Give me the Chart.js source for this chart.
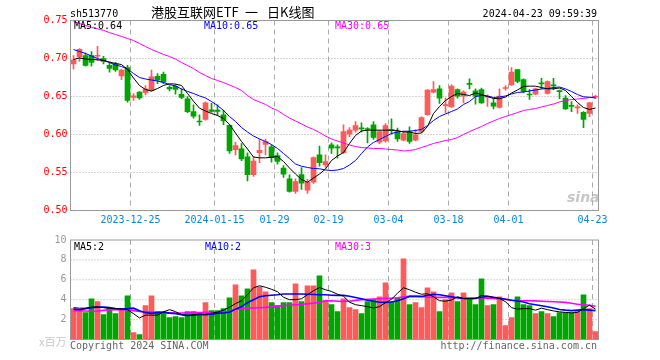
<!DOCTYPE html>
<html>
<head>
<meta charset="utf-8">
<script src="https://cdn.jsdelivr.net/npm/chart.js@4.4.1/dist/chart.umd.min.js"></script>
<style>
  body { margin: 0; background: #fff; width: 660px; height: 360px; position: relative; overflow: hidden;
         font-family: "DejaVu Sans Mono", monospace; font-size: 10px; }
  canvas { position: absolute; left: 0; }
  .t { position: absolute; line-height: 12px; white-space: nowrap; }
  .ttl { position: absolute; top: 4px; line-height: 16px; font-size: 13px; font-family: "Noto Sans CJK SC", sans-serif; color: #000; white-space: nowrap; }
</style>
</head>
<body>
<canvas id="k-chart" width="660" height="230" style="top:0"></canvas>
<canvas id="vol-chart" width="660" height="130" style="top:230px"></canvas>

<div class="t" style="left:70px;top:8px;color:#000">sh513770</div>
<div class="ttl" style="left:151px">港股互联网ETF</div>
<div class="ttl" style="left:245px">一</div>
<div class="ttl" style="left:267px">日K线图</div>
<div class="t" style="right:63px;top:8px;color:#000">2024-04-23 09:59:39</div>
<div class="t" style="left:74px;top:20px;color:#000">MA5:0.64</div>
<div class="t" style="left:204px;top:20px;color:#0000ff">MA10:0.65</div>
<div class="t" style="left:335px;top:20px;color:#ff00ff">MA30:0.65</div>
<div class="t" style="left:567px;top:189px;font:italic bold 14px 'DejaVu Sans',sans-serif;color:rgba(175,175,175,0.7)">sina</div>
<div class="t" style="left:74px;top:241px;color:#000">MA5:2</div>
<div class="t" style="left:205px;top:241px;color:#0000ff">MA10:2</div>
<div class="t" style="left:335px;top:241px;color:#ff00ff">MA30:3</div>
<div class="t" style="left:39px;top:335px;font-size:11px;font-family:'Noto Sans CJK SC',sans-serif;color:#c8c8c8">x百万</div>
<div class="t" style="left:70px;top:340px;color:#666">Copyright 2024 SINA.COM</div>
<div class="t" style="right:63px;top:340px;color:#666">http://finance.sina.com.cn</div>

<script>
// trading days 2023-12-11 .. 2024-04-23
var dates = [
  "2023-12-11","2023-12-12","2023-12-13","2023-12-14","2023-12-15","2023-12-18","2023-12-19","2023-12-20","2023-12-21","2023-12-22",
  "2023-12-25","2023-12-26","2023-12-27","2023-12-28","2023-12-29","2024-01-02","2024-01-03","2024-01-04","2024-01-05","2024-01-08",
  "2024-01-09","2024-01-10","2024-01-11","2024-01-12","2024-01-15","2024-01-16","2024-01-17","2024-01-18","2024-01-19","2024-01-22",
  "2024-01-23","2024-01-24","2024-01-25","2024-01-26","2024-01-29","2024-01-30","2024-01-31","2024-02-01","2024-02-02","2024-02-05",
  "2024-02-06","2024-02-07","2024-02-08","2024-02-19","2024-02-20","2024-02-21","2024-02-22","2024-02-23","2024-02-26","2024-02-27",
  "2024-02-28","2024-02-29","2024-03-01","2024-03-04","2024-03-05","2024-03-06","2024-03-07","2024-03-08","2024-03-11","2024-03-12",
  "2024-03-13","2024-03-14","2024-03-15","2024-03-18","2024-03-19","2024-03-20","2024-03-21","2024-03-22","2024-03-25","2024-03-26",
  "2024-03-27","2024-03-28","2024-03-29","2024-04-01","2024-04-02","2024-04-03","2024-04-08","2024-04-09","2024-04-10","2024-04-11",
  "2024-04-12","2024-04-15","2024-04-16","2024-04-17","2024-04-18","2024-04-19","2024-04-22","2024-04-23"
];

var tickDates = ["2023-12-25","2024-01-15","2024-01-29","2024-02-19","2024-03-04","2024-03-18","2024-04-01","2024-04-23"];
var tickTexts = ["2023-12-25","2024-01-15","01-29","02-19","03-04","03-18","04-01","04-23"];

var opens = [
  0.693,0.702,0.704,0.704,0.703,0.700,0.691,0.693,0.677,0.688,
  0.6487,0.6557,0.655,0.658,0.6767,0.6793,0.662,0.6636,0.653,0.647,
  0.630,0.6175,0.6197,0.6325,0.632,0.626,0.612,0.580,0.581,0.5706,
  0.547,0.576,0.587,0.5838,0.5724,0.5557,0.5417,0.525,0.5474,0.5267,
  0.5372,0.5733,0.560,0.5864,0.583,0.576,0.6004,0.6057,0.6085,0.607,
  0.6127,0.5899,0.5917,0.606,0.604,0.5925,0.604,0.5925,0.604,0.626,
  0.6557,0.660,0.638,0.6364,0.6592,0.6504,0.667,0.6575,0.6592,0.649,
  0.6417,0.6355,0.6605,0.6654,0.6855,0.6723,0.6525,0.653,0.667,0.654,
  0.6647,0.6568,0.6478,0.638,0.635,0.6293,0.6276,0.649
];
var closes = [
  0.698,0.712,0.691,0.695,0.704,0.696,0.687,0.685,0.6846,0.645,
  0.651,0.648,0.660,0.676,0.6714,0.6688,0.660,0.6592,0.6487,0.630,
  0.624,0.6165,0.6417,0.6305,0.6305,0.618,0.5785,0.5855,0.568,0.547,
  0.565,0.5793,0.5908,0.5697,0.5645,0.5478,0.525,0.538,0.536,0.5372,
  0.5697,0.5628,0.5645,0.582,0.5825,0.604,0.6057,0.6118,0.6075,0.6066,
  0.596,0.604,0.6118,0.605,0.5943,0.6013,0.5908,0.5996,0.6224,0.6583,
  0.6592,0.6478,0.639,0.6636,0.6504,0.6557,0.666,0.6504,0.6417,0.6496,
  0.6373,0.6504,0.6618,0.682,0.6697,0.6566,0.652,0.660,0.6667,0.6697,
  0.664,0.6564,0.6338,0.637,0.6357,0.6197,0.6417,0.6495
];
var highs = [
  0.704,0.713,0.7075,0.709,0.716,0.703,0.695,0.695,0.686,0.691,
  0.654,0.6566,0.6645,0.6846,0.680,0.682,0.6645,0.6654,0.660,0.650,
  0.639,0.626,0.643,0.641,0.639,0.632,0.6127,0.590,0.588,0.576,
  0.5706,0.5934,0.594,0.5864,0.576,0.559,0.547,0.5417,0.5566,0.541,
  0.5706,0.5846,0.5733,0.589,0.5864,0.6127,0.609,0.617,0.6154,0.609,
  0.617,0.6057,0.6145,0.6206,0.6083,0.604,0.610,0.6066,0.6233,0.6592,
  0.6697,0.6645,0.6478,0.6654,0.660,0.6575,0.6733,0.660,0.661,0.6522,
  0.647,0.660,0.6645,0.688,0.6855,0.6733,0.6592,0.661,0.674,0.6707,
  0.674,0.6583,0.6513,0.6434,0.639,0.630,0.6425,0.652
];
var lows = [
  0.686,0.696,0.690,0.690,0.697,0.693,0.682,0.683,0.672,0.6425,
  0.645,0.646,0.652,0.6566,0.667,0.667,0.6575,0.653,0.647,0.6286,
  0.6215,0.612,0.619,0.629,0.625,0.613,0.575,0.573,0.5655,0.539,
  0.545,0.563,0.573,0.5636,0.561,0.5435,0.524,0.5224,0.5276,0.5224,
  0.5355,0.5583,0.5566,0.575,0.569,0.575,0.597,0.603,0.603,0.589,
  0.5934,0.588,0.590,0.6004,0.5908,0.5917,0.5882,0.5917,0.6022,0.625,
  0.6548,0.6408,0.6285,0.6355,0.6478,0.6417,0.660,0.640,0.6408,0.637,
  0.6338,0.6346,0.6583,0.6645,0.668,0.6548,0.646,0.6522,0.660,0.653,
  0.659,0.647,0.633,0.630,0.6276,0.609,0.6233,0.647
];

// moving averages as drawn on the chart
var ma5 = [
  0.6987,0.7007,0.6993,0.6987,0.6983,0.6974,0.6954,0.6934,0.6921,0.6855,
  0.6743,0.6645,0.6592,0.6572,0.6605,0.6645,0.6667,0.6664,0.6645,0.654,
  0.6438,0.6346,0.6309,0.6276,0.625,0.6211,0.6132,0.602,0.5908,0.5809,
  0.5704,0.5693,0.5693,0.5701,0.571,0.5645,0.5559,0.548,0.5408,0.5372,
  0.5428,0.548,0.5546,0.5658,0.5717,0.5763,0.5882,0.5987,0.6046,0.6057,
  0.6057,0.6057,0.6057,0.6057,0.6053,0.6033,0.6033,0.6013,0.602,0.6105,
  0.6276,0.6368,0.6447,0.65,0.654,0.6526,0.6513,0.6546,0.6526,0.65,
  0.6474,0.647,0.6493,0.6546,0.6586,0.6632,0.6636,0.6636,0.6618,0.6601,
  0.6601,0.6612,0.6579,0.65,0.6421,0.6355,0.6329,0.6349
];
var ma10 = [
  0.7118,0.7092,0.7066,0.7033,0.700,0.6974,0.6947,0.6914,0.6895,0.6862,
  0.6803,0.675,0.673,0.6717,0.6704,0.6684,0.6658,0.6638,0.6599,0.6566,
  0.654,0.6507,0.648,0.6434,0.6382,0.6316,0.6237,0.6171,0.6092,0.6033,
  0.598,0.5941,0.5908,0.5868,0.5816,0.575,0.5684,0.5612,0.5583,0.5566,
  0.5553,0.5549,0.5533,0.5526,0.5533,0.5553,0.5599,0.5658,0.575,0.5836,
  0.5895,0.5934,0.5974,0.6013,0.6033,0.6043,0.6043,0.6053,0.6066,0.6118,
  0.6184,0.6237,0.627,0.6303,0.6336,0.6395,0.6434,0.65,0.6513,0.6507,
  0.6487,0.6493,0.6507,0.6533,0.6553,0.656,0.6572,0.6586,0.6599,0.6605,
  0.6618,0.6625,0.660,0.6566,0.6526,0.6496,0.649,0.648
];
var ma30 = [
  0.7487,0.746,0.7434,0.741,0.739,0.737,0.734,0.7316,0.729,0.7263,
  0.7237,0.7197,0.7158,0.7118,0.7086,0.7053,0.7026,0.6993,0.6947,0.6908,
  0.6868,0.6816,0.6776,0.6737,0.6711,0.6684,0.6651,0.6618,0.6579,0.6513,
  0.646,0.6428,0.6395,0.6349,0.6316,0.6263,0.6217,0.6178,0.6138,0.6099,
  0.6066,0.6026,0.598,0.5941,0.5914,0.5888,0.5862,0.5842,0.5829,0.5822,
  0.5816,0.5816,0.5809,0.5803,0.5796,0.5783,0.5789,0.5803,0.5829,0.5855,
  0.5882,0.5901,0.5921,0.5934,0.596,0.600,0.6039,0.6072,0.6105,0.6145,
  0.6178,0.6211,0.6237,0.6263,0.6289,0.6316,0.6329,0.6342,0.6362,0.6382,
  0.6401,0.6428,0.6447,0.646,0.6467,0.6474,0.6487,0.650
];

// volume, millions
var volumes = [
  3.1,2.8,2.7,4.1,3.8,2.5,3.2,2.6,3.0,4.4,
  0.7,0.5,3.4,4.4,2.8,2.7,2.2,2.3,2.2,2.8,
  2.8,2.6,3.7,2.9,2.9,3.1,4.2,5.5,4.4,5.1,
  7.0,5.3,4.8,3.7,3.4,3.7,3.7,5.6,3.8,5.4,
  5.4,6.4,3.9,3.5,2.8,4.1,3.2,3.0,2.6,3.8,
  4.0,4.3,5.7,3.8,4.2,8.1,3.5,3.7,3.2,5.2,
  4.8,2.8,4.0,4.7,3.8,4.7,4.0,3.5,6.1,3.4,
  3.5,4.3,1.4,2.2,4.3,3.5,3.4,2.6,2.8,2.6,
  2.3,2.7,2.7,2.7,2.9,4.5,3.1,0.8
];
var volMa5 = [
  3.2,3.15,3.15,3.25,3.27,3.2,3.13,3.08,3.07,3.0,
  2.6,2.17,2.45,2.45,2.45,2.78,3.0,2.8,2.5,2.4,
  2.5,2.57,2.5,2.65,2.75,2.95,3.25,3.6,3.9,4.5,
  5.2,5.4,5.25,5.05,4.8,4.25,4.0,4.0,4.1,4.5,
  4.9,5.22,5.0,4.83,4.55,4.35,3.75,3.5,3.4,3.3,
  3.17,3.3,3.7,4.05,4.65,5.2,5.0,4.75,4.55,4.6,
  4.3,3.9,3.85,3.97,4.3,4.12,4.1,4.1,4.43,4.35,
  4.23,4.12,3.8,3.2,3.05,3.1,3.1,2.95,3.15,3.0,
  2.87,2.78,2.72,2.67,2.72,3.1,3.45,3.05
];
var volMa10 = [
  3.05,3.0,3.1,3.2,3.25,3.25,3.2,3.12,3.07,3.1,
  3.15,2.9,2.7,2.63,2.7,2.75,2.65,2.6,2.5,2.42,
  2.45,2.5,2.5,2.55,2.65,2.67,2.75,3.05,3.3,3.7,
  4.0,4.3,4.4,4.45,4.5,4.57,4.57,4.57,4.57,4.55,
  4.52,4.5,4.5,4.45,4.43,4.43,4.35,4.22,4.1,3.95,
  3.85,3.75,3.73,3.77,3.9,4.1,4.33,4.33,4.33,4.45,
  4.55,4.5,4.4,4.3,4.2,4.12,4.1,4.15,4.25,4.33,
  4.25,4.15,4.05,3.95,3.87,3.77,3.6,3.5,3.4,3.3,
  3.17,3.02,2.95,2.9,2.95,3.0,2.95,2.9
];
var volMa30 = [
  2.9,2.88,2.86,2.84,2.87,2.93,2.98,3.0,3.0,3.0,
  2.9,2.82,2.78,2.75,2.73,2.7,2.68,2.67,2.67,2.68,
  2.7,2.72,2.73,2.74,2.75,2.77,2.8,3.05,3.1,3.15,
  3.17,3.2,3.23,3.28,3.35,3.4,3.45,3.5,3.53,3.6,
  3.66,3.75,3.88,3.9,3.85,3.83,3.85,3.93,4.0,4.03,
  4.07,4.1,4.13,4.15,4.2,4.3,4.33,4.33,4.3,4.27,
  4.24,4.23,4.23,4.23,4.2,4.18,4.17,4.17,4.17,4.15,
  4.12,4.1,4.05,3.95,3.9,3.9,3.9,3.88,3.85,3.82,
  3.8,3.77,3.73,3.65,3.55,3.5,3.45,3.35
];

var UP = "#ff5a5a", DOWN = "#00a600";
function candleColor(i) { return closes[i] >= opens[i] ? UP : DOWN; }
var colors = dates.map((d, i) => candleColor(i));

Chart.defaults.font.family = "'DejaVu Sans Mono', monospace";
Chart.defaults.font.size = 10;

// dotted/dashed grid + grey frame, like the sina panels
var panelFrame = {
  id: "panelFrame",
  beforeDatasetsDraw(chart) {
    const ctx = chart.ctx, a = chart.chartArea, x = chart.scales.x, y = chart.scales.y;
    ctx.save();
    ctx.lineWidth = 1;
    ctx.strokeStyle = "#aaa";
    ctx.setLineDash([1, 2]);
    y.ticks.forEach(t => {
      if (t.value <= y.min + 1e-9 || t.value >= y.max - 1e-9) return;
      const py = y.getPixelForValue(t.value);
      ctx.beginPath(); ctx.moveTo(a.left, py); ctx.lineTo(a.right, py); ctx.stroke();
    });
    const half = (x.getPixelForValue(1) - x.getPixelForValue(0)) / 2;
    ctx.setLineDash([5, 4]);
    tickDates.forEach(d => {
      const px = x.getPixelForValue(dates.indexOf(d)) - half;
      ctx.beginPath(); ctx.moveTo(px, a.top); ctx.lineTo(px, a.bottom); ctx.stroke();
    });
    ctx.restore();
  },
  afterDraw(chart) {
    const ctx = chart.ctx, a = chart.chartArea;
    ctx.save();
    ctx.strokeStyle = "#999";
    ctx.lineWidth = 1;
    ctx.strokeRect(a.left, a.top, a.right - a.left, a.bottom - a.top);
    ctx.restore();
  }
};

function maLine(data, color, width) {
  return { type: "line", data: data, borderColor: color, borderWidth: width,
           pointRadius: 0, tension: 0, order: 0 };
}

var kChart = new Chart(document.getElementById("k-chart").getContext("2d"), {
  type: "bar",
  data: {
    labels: dates,
    datasets: [
      { // wicks
        data: lows.map((l, i) => [l, highs[i]]),
        backgroundColor: colors, barThickness: 1, grouped: false, order: 2
      },
      { // bodies
        data: opens.map((o, i) => [o, closes[i]]),
        backgroundColor: colors, barThickness: 5, grouped: false, minBarLength: 1, order: 1
      },
      maLine(ma5, "#000000", 1),
      maLine(ma10, "#0000ff", 1),
      maLine(ma30, "#ff00ff", 1)
    ]
  },
  options: {
    responsive: false,
    animation: false,
    layout: { padding: { left: 0, top: 20.5, right: 61.5, bottom: 0 } },
    plugins: { legend: { display: false }, tooltip: { enabled: false } },
    scales: {
      x: {
        offset: true,
        grid: { display: false, drawTicks: false },
        border: { display: false },
        afterFit: s => { s.height = 19.5; },
        ticks: {
          autoSkip: false, maxRotation: 0, minRotation: 0, padding: 4, labelOffset: -3,
          color: "#0a86d8",
          callback: function (v, i) {
            const k = tickDates.indexOf(dates[i]);
            return k >= 0 ? tickTexts[k] : "";
          }
        }
      },
      y: {
        min: 0.5, max: 0.75,
        grid: { display: false, drawTicks: false },
        border: { display: false },
        afterFit: s => { s.width = 70.5; },
        ticks: { stepSize: 0.05, padding: 3, color: "#ff0000", callback: v => v.toFixed(2) }
      }
    }
  },
  plugins: [panelFrame]
});

var volChart = new Chart(document.getElementById("vol-chart").getContext("2d"), {
  type: "bar",
  data: {
    labels: dates,
    datasets: [
      { data: volumes, backgroundColor: colors, barThickness: 5, order: 1 },
      maLine(volMa5, "#000000", 1),
      maLine(volMa10, "#0000ff", 1.6),
      maLine(volMa30, "#ff00ff", 1.6)
    ]
  },
  options: {
    responsive: false,
    animation: false,
    layout: { padding: { left: 0, top: 9.5, right: 61.5, bottom: 0 } },
    plugins: { legend: { display: false }, tooltip: { enabled: false } },
    scales: {
      x: {
        offset: true,
        grid: { display: false, drawTicks: false },
        border: { display: false },
        afterFit: s => { s.height = 20.5; },
        ticks: { display: false, autoSkip: false }
      },
      y: {
        min: 0, max: 10,
        grid: { display: false, drawTicks: false },
        border: { display: false },
        afterFit: s => { s.width = 70.5; },
        ticks: { stepSize: 2, padding: 4, color: "#999", callback: v => (v === 0 ? "" : v) }
      }
    }
  },
  plugins: [panelFrame]
});
</script>
</body>
</html>
